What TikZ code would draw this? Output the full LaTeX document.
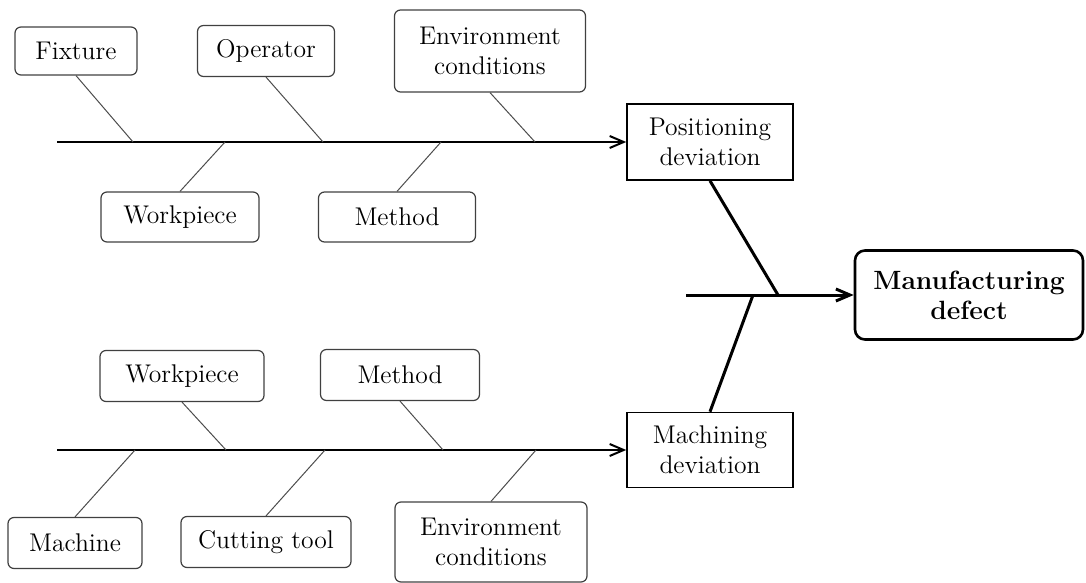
\documentclass[tikz,border=0pt]{standalone}
\usepackage{amsmath}
\usepackage{tikz}
\usetikzlibrary{arrows.meta}

\begin{document}
\begin{tikzpicture}[
	x=0.5pt, y=-0.5pt,
	every node/.style={font=\fontsize{12.8}{15}\selectfont, align=center, inner sep=0pt},
	cause/.style={draw=black!75, line width=0.6pt, rounded corners=3pt},
	deviation/.style={draw, line width=0.8pt},
	effectbox/.style={draw, line width=1.3pt, rounded corners=5pt, font=\fontsize{13.2}{15}\selectfont\bfseries},
	bone/.style={draw=black!70, line width=0.5pt},
	spine/.style={line width=1pt, -{Straight Barb[length=7pt,width=6pt]}},
	mainbone/.style={line width=1.5pt}
]
	\useasboundingbox (0,0) rectangle (1086,583);

	\node[cause, minimum width=61pt, minimum height=24pt] (fixA) at (76,51) {Fixture};
	\node[cause, minimum width=68.5pt, minimum height=25.5pt] (operA) at (266,51) {Operator};
	\node[cause, minimum width=95.5pt, minimum height=41pt] (envA) at (490,51) {Environment\\conditions};
	\node[cause, minimum width=79pt, minimum height=25pt] (workA) at (180,217) {Workpiece};
	\node[cause, minimum width=78.5pt, minimum height=25pt] (methA) at (397,217) {Method};

	\node[cause, minimum width=82pt, minimum height=25.5pt] (workB) at (182,376) {Workpiece};
	\node[cause, minimum width=79.5pt, minimum height=25.5pt] (methB) at (400,375) {Method};
	\node[cause, minimum width=67pt, minimum height=25.5pt] (machB) at (75,543) {Machine};
	\node[cause, minimum width=85pt, minimum height=25.5pt] (cutB) at (266,542) {Cutting tool};
	\node[cause, minimum width=96pt, minimum height=40pt] (envB) at (491,542) {Environment\\conditions};

	\node[deviation, minimum width=83pt, minimum height=38pt] (posdev) at (710,142) {Positioning\\deviation};
	\node[deviation, minimum width=83pt, minimum height=37.5pt] (machdev) at (710,450) {Machining\\deviation};
	\node[effectbox, minimum width=114pt, minimum height=44.5pt] (defect) at (969,295) {Manufacturing\\defect};

	\coordinate (tailA) at (57,142);
	\coordinate (tailB) at (57,450);
	\coordinate (tailM) at (686,295);

	\coordinate (jfixA) at (133,142);
	\coordinate (joperA) at (323,142);
	\coordinate (jenvA) at (535,142);
	\coordinate (jworkA) at (225,142);
	\coordinate (jmethA) at (441,142);

	\coordinate (jworkB) at (226,450);
	\coordinate (jmethB) at (443,450);
	\coordinate (jmachB) at (135,450);
	\coordinate (jcutB) at (325,450);
	\coordinate (jenvB) at (536,450);

	\coordinate (jpos) at (778,295);
	\coordinate (jmach) at (753,295);

	\draw[spine] (tailA) -- (posdev.west);
	\draw[spine] (tailB) -- (machdev.west);
	\draw[spine, line width=1.5pt] (tailM) -- (defect.west);

	\foreach \n in {fixA, operA, envA, workB, methB}
		\draw[bone] (\n.south) -- (j\n);
	\foreach \n in {workA, methA, machB, cutB, envB}
		\draw[bone] (\n.north) -- (j\n);

	\draw[mainbone] (posdev.south) -- (jpos);
	\draw[mainbone] (machdev.north) -- (jmach);
\end{tikzpicture}
\end{document}
